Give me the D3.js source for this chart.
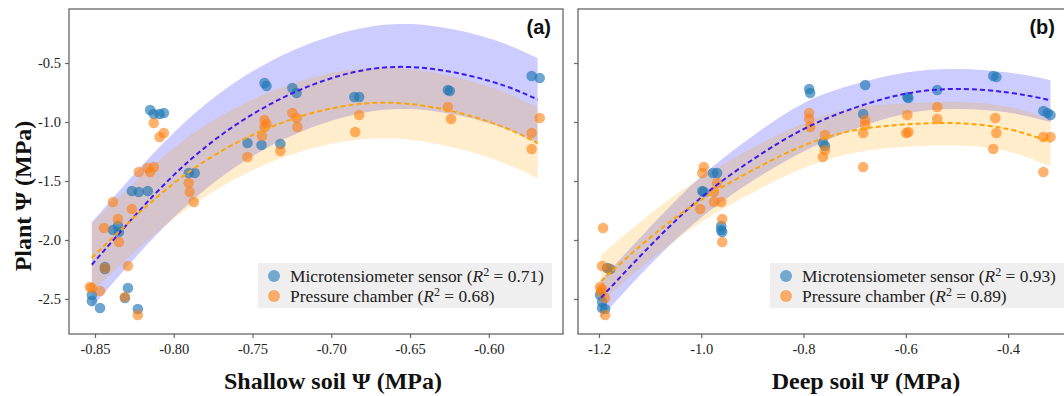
<!DOCTYPE html>
<html>
<head>
<meta charset="utf-8">
<script src="https://cdn.jsdelivr.net/npm/d3@7"></script>
<style>
  body { margin: 0; background: #fff; }
  svg { display: block; }
</style>
</head>
<body>
<div id="chart"></div>
<script>
// scatter data, panel (a): shallow soil
const aMicro = [
  [-0.815,-0.898],[-0.8127,-0.932],[-0.809,-0.932],[-0.8063,-0.924],
  [-0.7424,-0.669],[-0.7411,-0.695],[-0.7247,-0.712],[-0.722,-0.754],
  [-0.6854,-0.788],[-0.6823,-0.788],[-0.626,-0.729],[-0.6247,-0.737],
  [-0.5728,-0.61],[-0.5677,-0.627],
  [-0.7532,-1.178],[-0.7443,-1.195],[-0.7323,-1.186],
  [-0.7905,-1.432],[-0.7867,-1.432],
  [-0.8266,-1.585],[-0.8222,-1.593],[-0.8165,-1.585],
  [-0.8386,-1.915],[-0.8354,-1.881],[-0.8348,-1.932],
  [-0.8437,-2.246],[-0.8437,-2.229],
  [-0.852,-2.466],[-0.852,-2.517],[-0.8468,-2.576],
  [-0.8291,-2.407],[-0.831,-2.492],[-0.8228,-2.585]
];
const aPressure = [
  [-0.8127,-1.008],[-0.809,-1.127],[-0.8063,-1.093],
  [-0.8222,-1.424],[-0.8165,-1.39],[-0.8127,-1.381],[-0.815,-1.424],
  [-0.7424,-0.983],[-0.7411,-1.017],[-0.7424,-1.042],[-0.744,-1.119],
  [-0.7532,-1.297],[-0.7323,-1.246],
  [-0.7247,-0.924],[-0.722,-0.966],[-0.7215,-1.042],
  [-0.7905,-1.517],[-0.7899,-1.593],[-0.7873,-1.678],
  [-0.6823,-0.941],[-0.6848,-1.085],
  [-0.626,-0.873],[-0.624,-0.975],
  [-0.5728,-1.093],[-0.5728,-1.229],[-0.5677,-0.966],
  [-0.8386,-1.678],[-0.8266,-1.737],[-0.8354,-1.822],[-0.8443,-1.898],[-0.8348,-2.017],
  [-0.8291,-2.22],[-0.8437,-2.237],
  [-0.8532,-2.398],[-0.852,-2.407],[-0.8468,-2.433],
  [-0.831,-2.483],[-0.8228,-2.636]
];

// scatter data, panel (b): deep soil
const bMicro = [
  [-0.789,-0.72],[-0.787,-0.754],
  [-0.977,-1.432],[-0.969,-1.432],[-0.998,-1.585],[-0.995,-1.593],
  [-0.6795,-0.686],[-0.6834,-0.932],
  [-0.597,-0.788],[-0.595,-0.797],[-0.5386,-0.729],
  [-0.429,-0.61],[-0.423,-0.619],
  [-0.331,-0.907],[-0.323,-0.924],[-0.317,-0.941],
  [-0.762,-1.178],[-0.758,-1.203],
  [-0.961,-1.881],[-0.961,-1.915],[-0.959,-1.932],
  [-1.198,-2.466],[-1.194,-2.525],[-1.194,-2.576],[-1.188,-2.585],
  [-1.178,-2.246],[-1.184,-2.237]
];
const bPressure = [
  [-0.995,-1.381],[-0.998,-1.432],[-0.969,-1.517],[-0.975,-1.593],
  [-0.789,-0.924],[-0.789,-0.975],[-0.787,-1.042],
  [-0.6795,-0.983],[-0.6795,-1.025],[-0.6834,-1.093],[-0.6834,-1.381],
  [-0.597,-0.941],[-0.599,-1.093],[-0.595,-1.085],
  [-0.5386,-0.873],[-0.5386,-0.975],
  [-0.425,-0.966],[-0.423,-1.093],[-0.429,-1.229],
  [-0.331,-1.127],[-0.317,-1.127],[-0.331,-1.424],
  [-0.758,-1.11],[-0.758,-1.237],[-0.762,-1.297],
  [-1.192,-1.898],[-1.194,-2.22],[-1.18,-2.246],
  [-1.198,-2.398],[-1.194,-2.415],[-1.196,-2.441],[-1.188,-2.492],[-1.188,-2.636],
  [-1.002,-1.737],[-0.975,-1.678],[-0.961,-1.678],[-0.959,-1.822],[-0.959,-2.017]
];

// quadratic fits + confidence bands
const aGrid      = [-0.852, -0.80, -0.75, -0.70, -0.65, -0.60, -0.569];
const aMicroFit  = [-2.21, -1.45, -0.934, -0.629, -0.534, -0.650, -0.81];
const aMicroHi   = [-1.85, -1.09, -0.57, -0.27, -0.17, -0.29, -0.46];
const aMicroLo   = [-2.57, -1.81, -1.29, -0.99, -0.89, -1.01, -1.18];
const aPresFit   = [-2.15, -1.52, -1.11, -0.885, -0.847, -0.997, -1.18];
const aPresHi    = [-1.86, -1.22, -0.81, -0.585, -0.55, -0.70, -0.88];
const aPresLo    = [-2.44, -1.82, -1.41, -1.185, -1.15, -1.30, -1.48];

const bGrid      = [-1.196, -1.10, -1.00, -0.90, -0.80, -0.70, -0.60, -0.50, -0.40, -0.317];
const bMicroFit  = [-2.49, -2.05, -1.64, -1.32, -1.06, -0.88, -0.76, -0.72, -0.75, -0.815];
const bMicroHi   = [-2.34, -1.89, -1.46, -1.12, -0.84, -0.68, -0.58, -0.55, -0.58, -0.645];
const bMicroLo   = [-2.66, -2.21, -1.81, -1.50, -1.25, -1.06, -0.93, -0.89, -0.92, -1.0];
const bPresFit   = [-2.35, -1.98, -1.66, -1.41, -1.20, -1.07, -1.02, -1.01, -1.06, -1.17];
const bPresHi    = [-2.13, -1.78, -1.47, -1.22, -1.01, -0.88, -0.84, -0.83, -0.87, -0.98];
const bPresLo    = [-2.53, -2.17, -1.85, -1.60, -1.39, -1.26, -1.21, -1.20, -1.25, -1.38];

const yTicks = [-2.5, -2.0, -1.5, -1.0, -0.5];
const aTicks = [-0.85, -0.80, -0.75, -0.70, -0.65, -0.60];
const bTicks = [-1.2, -1.0, -0.8, -0.6, -0.4];

const aR2 = ["0.71", "0.68"];
const bR2 = ["0.93", "0.89"];

const W = 1064, H = 396;
const plotTop = 9, plotBottom = 334;
const serif = "'Liberation Serif', 'Times New Roman', serif";

const svg = d3.select("#chart").append("svg")
  .attr("width", W).attr("height", H);

const y = d3.scaleLinear().domain([-2.797, -0.042]).range([plotBottom, plotTop]);

function panel(opts) {
  const x = d3.scaleLinear().domain(opts.domain).range([opts.left, opts.right]);
  const g = svg.append("g");

  const area = (lo, hi) => d3.area()
    .x((d, i) => x(opts.grid[i]))
    .y0((d, i) => y(lo[i]))
    .y1((d, i) => y(hi[i]))
    .curve(d3.curveNatural)(opts.grid);
  const line = (vals) => d3.line()
    .x((d, i) => x(opts.grid[i]))
    .y((d, i) => y(vals[i]))
    .curve(d3.curveNatural)(opts.grid);

  // bands
  g.append("path").attr("d", area(opts.microLo, opts.microHi))
    .attr("fill", "#0000ff").attr("fill-opacity", 0.2);
  g.append("path").attr("d", area(opts.presLo, opts.presHi))
    .attr("fill", "#ffa500").attr("fill-opacity", 0.2);

  // points
  g.append("g").selectAll("circle").data(opts.micro).enter().append("circle")
    .attr("cx", d => x(d[0])).attr("cy", d => y(d[1])).attr("r", 5.3)
    .attr("fill", "#1f77b4").attr("fill-opacity", 0.65);
  g.append("g").selectAll("circle").data(opts.pres).enter().append("circle")
    .attr("cx", d => x(d[0])).attr("cy", d => y(d[1])).attr("r", 5.3)
    .attr("fill", "#ff7f0e").attr("fill-opacity", 0.6);

  // fit lines
  g.append("path").attr("d", line(opts.microFit))
    .attr("fill", "none").attr("stroke", "#3d1af0").attr("stroke-width", 2)
    .attr("stroke-dasharray", "5,3");
  g.append("path").attr("d", line(opts.presFit))
    .attr("fill", "none").attr("stroke", "#ffa500").attr("stroke-width", 2)
    .attr("stroke-dasharray", "5,3");

  // frame
  svg.append("rect")
    .attr("x", opts.left).attr("y", plotTop)
    .attr("width", opts.right - opts.left).attr("height", plotBottom - plotTop)
    .attr("fill", "none").attr("stroke", "#666").attr("stroke-width", 1.3);

  // axes
  const xa = svg.append("g").attr("transform", `translate(0,${plotBottom})`)
    .call(d3.axisBottom(x).tickValues(opts.ticks).tickSize(4).tickPadding(6)
      .tickFormat(opts.fmt));
  const ya = svg.append("g").attr("transform", `translate(${opts.left},0)`)
    .call(d3.axisLeft(y).tickValues(yTicks).tickSize(4).tickPadding(4)
      .tickFormat(opts.showY ? (d => d.toFixed(1)) : ""));
  [xa, ya].forEach(a => {
    a.select(".domain").remove();
    a.selectAll(".tick line").attr("stroke", "#666").attr("stroke-width", 1.2);
    a.selectAll(".tick text").attr("fill", "#222")
      .style("font-family", serif).style("font-size", "14.5px");
  });

  // axis title
  svg.append("text")
    .attr("x", (opts.left + opts.right) / 2 + opts.titleShift).attr("y", 389)
    .attr("text-anchor", "middle")
    .style("font-family", serif).style("font-weight", "bold").style("font-size", "24px")
    .attr("fill", "#111")
    .text(opts.title);

  // panel tag
  svg.append("text")
    .attr("x", opts.tagX).attr("y", 34).attr("text-anchor", "end")
    .style("font-family", "'Liberation Sans', Arial, sans-serif")
    .style("font-weight", "bold").style("font-size", "20px").attr("fill", "#111")
    .text(opts.tag);

  // legend
  const lg = svg.append("g");
  lg.append("rect").attr("x", opts.legX).attr("y", 263)
    .attr("width", opts.legW).attr("height", 45).attr("fill", "#efefef");
  const names = ["Microtensiometer sensor", "Pressure chamber"];
  const cols = ["#1f77b4", "#ff7f0e"];
  names.forEach((n, i) => {
    const cy = 276 + i * 20;
    lg.append("circle").attr("cx", opts.legX + 16).attr("cy", cy).attr("r", 6)
      .attr("fill", cols[i]).attr("fill-opacity", 0.6);
    const t = lg.append("text").attr("x", opts.legX + 32).attr("y", cy + 5.5)
      .style("font-family", serif).style("font-size", "17.4px").attr("fill", "#222");
    t.append("tspan").text(n + " (");
    t.append("tspan").style("font-style", "italic").text("R");
    t.append("tspan").attr("dy", -6).style("font-size", "12px").text("2");
    t.append("tspan").attr("dy", 6).text(" = " + opts.r2[i] + ")");
  });
}

panel({
  left: 69, right: 563, domain: [-0.8665, -0.5529], grid: aGrid,
  micro: aMicro, pres: aPressure,
  microFit: aMicroFit, microHi: aMicroHi, microLo: aMicroLo,
  presFit: aPresFit, presHi: aPresHi, presLo: aPresLo,
  ticks: aTicks, fmt: d => d.toFixed(2), showY: true,
  title: "Shallow soil \u03A8 (MPa)", titleShift: 17, tag: "(a)", tagX: 551,
  legX: 258, legW: 294, r2: aR2
});

panel({
  left: 578, right: 1072, domain: [-1.241, -0.275], grid: bGrid,
  micro: bMicro, pres: bPressure,
  microFit: bMicroFit, microHi: bMicroHi, microLo: bMicroLo,
  presFit: bPresFit, presHi: bPresHi, presLo: bPresLo,
  ticks: bTicks, fmt: d => d.toFixed(1), showY: false,
  title: "Deep soil \u03A8 (MPa)", titleShift: 41, tag: "(b)", tagX: 1055,
  legX: 770, legW: 300, r2: bR2
});

// y axis title
svg.append("text")
  .attr("transform", "translate(31,196) rotate(-90)")
  .attr("text-anchor", "middle")
  .style("font-family", serif).style("font-weight", "bold").style("font-size", "24px")
  .attr("fill", "#111")
  .text("Plant \u03A8 (MPa)");
</script>
</body>
</html>
